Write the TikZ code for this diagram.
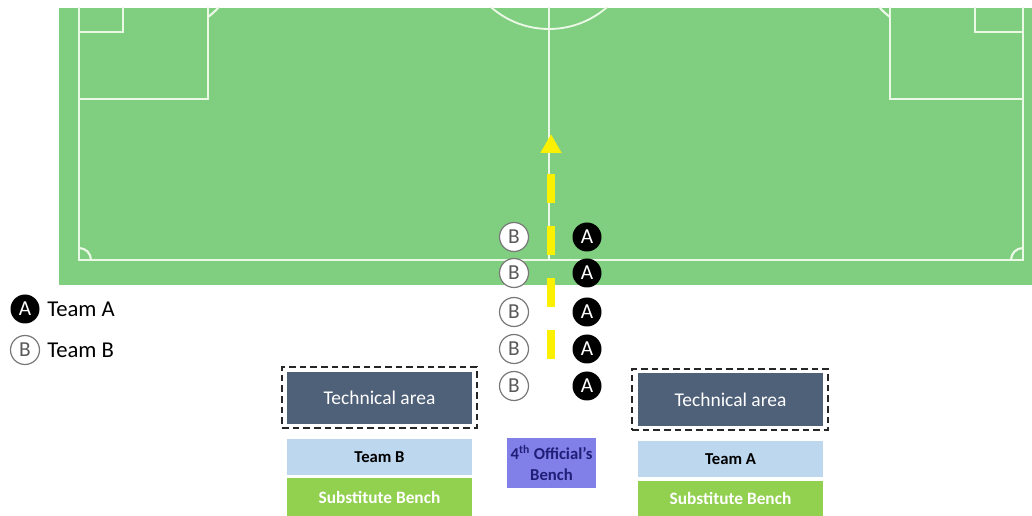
\documentclass[tikz,border=0pt]{standalone}
\usepackage{fontspec}
\setmainfont{Carlito}
\usetikzlibrary{arrows.meta}
\definecolor{pitch}{RGB}{128,206,128}
\definecolor{pline}{RGB}{236,248,230}
\definecolor{tech}{RGB}{79,96,121}
\definecolor{teamc}{RGB}{189,215,238}
\definecolor{subc}{RGB}{146,208,80}
\definecolor{offc}{RGB}{128,128,232}
\definecolor{offt}{RGB}{31,31,120}
\definecolor{yarrow}{RGB}{250,240,0}
\definecolor{bgray}{RGB}{120,120,120}
\newcommand\pxu{0.75pt}
\begin{document}
\begin{tikzpicture}[x=0.75pt,y=-0.75pt,
  pl/.style={draw=pline,line width=1.6pt},
  bcirc/.style={circle,draw=bgray,line width=0.9pt,fill=white,minimum size=29*\pxu,inner sep=0pt,text=black!65,font=\fontsize{16}{16}\selectfont},
  acirc/.style={circle,fill=black,minimum size=29*\pxu,inner sep=0pt,text=white,font=\fontsize{16}{16}\selectfont},
  legend/.style={anchor=west,inner sep=0pt,font=\fontsize{17}{18}\selectfont},
  techbox/.style={rectangle,fill=tech,text=white,inner sep=0pt,font=\fontsize{14.6}{15}\selectfont},
  teambox/.style={rectangle,fill=teamc,text=black,inner sep=0pt,font=\bfseries\fontsize{12.5}{14}\selectfont},
  subbox/.style={rectangle,fill=subc,text=white,inner sep=0pt,font=\bfseries\fontsize{13}{14}\selectfont},
  areabox/.style={rectangle,draw=black!85,line width=1.5pt,dash pattern=on 5pt off 3pt,inner sep=0pt},
  offbox/.style={rectangle,fill=offc,text=offt,inner sep=0pt,align=center,font=\bfseries\fontsize{12.5}{15.75}\selectfont},
  walk/.style={draw=yarrow,line width=6pt,dash pattern=on 21.75pt off 17.25pt,-{Triangle[length=14.25pt,width=15pt]}}
]
\useasboundingbox (0,0) rectangle (1032,516);
% pitch
\begin{scope}
  \clip (59,8) rectangle (1032,285);
  \fill[pitch] (59,8) rectangle (1032,285);
  \draw[pl] (79,0) -- (79,260) -- (1023,260) -- (1023,0);
  \draw[pl] (79,32) -- (123,32) -- (123,0);
  \draw[pl] (79,99) -- (208,99) -- (208,0);
  \draw[pl] (1023,32) -- (975,32) -- (975,0);
  \draw[pl] (1023,99) -- (890,99) -- (890,0);
  \draw[pl] (208,17) arc[start angle=53.3,end angle=30,radius=72];
  \draw[pl] (890,17) arc[start angle=126.7,end angle=150,radius=72];
  \draw[pl,line width=1.2pt] (549,0) -- (549,260);
  \draw[pl,line width=1.4pt] (549,-59) circle[radius=88];
  \draw[pl] (91,260) arc[start angle=0,end angle=-90,radius=12];
  \draw[pl] (1011,260) arc[start angle=180,end angle=270,radius=12];
\end{scope}
% players
\node[bcirc] (b1) at (514,237) {B};
\node[bcirc] (b2) at (514,273) {B};
\node[bcirc] (b3) at (514,312) {B};
\node[bcirc] (b4) at (514,349) {B};
\node[bcirc] (b5) at (514,386) {B};
\node[acirc] (a1) at (587,237) {A};
\node[acirc] (a2) at (587,273) {A};
\node[acirc] (a3) at (587,312) {A};
\node[acirc] (a4) at (587,349) {A};
\node[acirc] (a5) at (587,386) {A};
% arrow
\coordinate (arrS) at (551,359);
\coordinate (arrE) at (551,134);
\draw[walk] (arrS) -- (arrE);
% legend
\node[acirc] (la) at (25,309) {A};
\node[legend] (lat) at (47,309) {Team A};
\node[bcirc] (lb) at (25,350) {B};
\node[legend] (lbt) at (47,350) {Team B};
% left benches
\node[areabox,minimum width=195*\pxu,minimum height=61*\pxu] (areaL) at (379.5,397.5) {};
\node[techbox,minimum width=185*\pxu,minimum height=52*\pxu] (techL) at (379.5,398) {Technical area};
\node[teambox,minimum width=185*\pxu,minimum height=36*\pxu] (teamL) at (379.5,457) {Team B};
\node[subbox,minimum width=185*\pxu,minimum height=38*\pxu] (subL) at (379.5,497) {Substitute Bench};
% right benches
\node[areabox,minimum width=196*\pxu,minimum height=61*\pxu] (areaR) at (730,399.5) {};
\node[techbox,minimum width=185*\pxu,minimum height=53*\pxu] (techR) at (730.5,399.5) {Technical area};
\node[teambox,minimum width=185*\pxu,minimum height=36*\pxu] (teamR) at (730.5,459) {Team A};
\node[subbox,minimum width=185*\pxu,minimum height=35*\pxu] (subR) at (730.5,498.5) {Substitute Bench};
% fourth official
\node[offbox,minimum width=89*\pxu,minimum height=50*\pxu] (off) at (551.5,463) {4\textsuperscript{th} Official’s\\Bench};
\end{tikzpicture}
\end{document}
